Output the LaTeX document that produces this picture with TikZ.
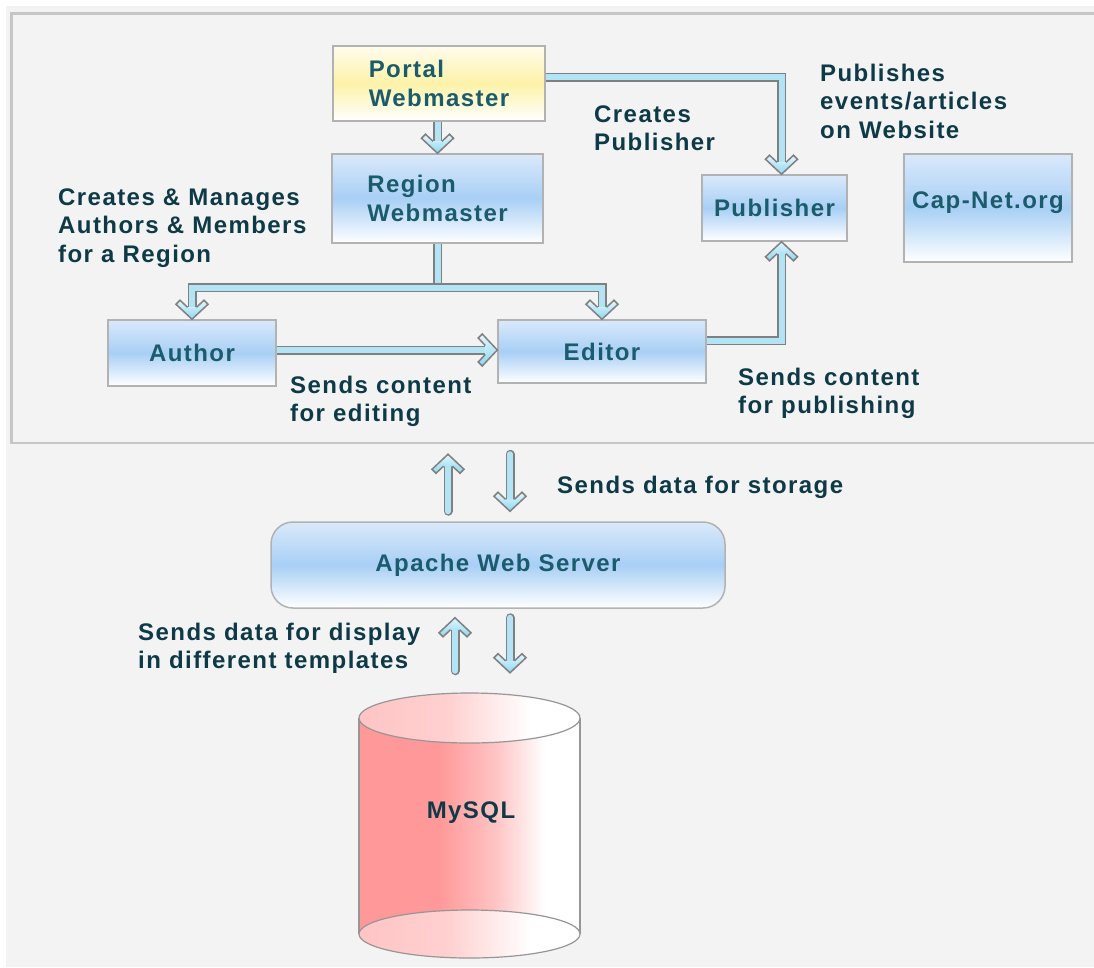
\documentclass[tikz,border=0pt]{standalone}
\usepackage{fontspec}
\setmainfont{Liberation Sans}[LetterSpace=6]
\usetikzlibrary{calc}
\definecolor{bgray}{RGB}{243,243,243}
\definecolor{panelc}{RGB}{198,198,198}
\definecolor{bordc}{RGB}{178,178,178}
\definecolor{bluetop}{RGB}{218,233,251}
\definecolor{bluemid}{RGB}{168,207,245}
\definecolor{yeltop}{RGB}{255,252,236}
\definecolor{yelmid}{RGB}{253,242,168}
\definecolor{txtd}{RGB}{14,58,72}
\definecolor{txtb}{RGB}{26,92,108}
\definecolor{arrgray}{RGB}{128,128,128}
\definecolor{arrfill}{RGB}{178,228,246}
\definecolor{headtop}{RGB}{228,246,252}
\definecolor{headbot}{RGB}{140,215,243}
\definecolor{dbred}{RGB}{255,152,152}
\definecolor{dbred2}{RGB}{255,196,196}
\definecolor{dbline}{RGB}{150,150,150}
\pgfdeclarehorizontalshading{dbbody}{100bp}{color(0bp)=(dbred); color(25bp)=(dbred); color(43bp)=(dbred); color(56bp)=(dbred2); color(67bp)=(white); color(100bp)=(white)}
\pgfdeclarehorizontalshading{dbtop}{100bp}{color(0bp)=(dbred2); color(25bp)=(dbred2); color(45bp)=(dbred2!80!white); color(64bp)=(white); color(100bp)=(white)}
\newcommand\hdown[1]{\begin{scope}[shift={#1}]
 \shade[top color=headtop, bottom color=headbot] (-4.5,-12)--(-12,-19)--(-16,-15)--(0,0)--(16,-15)--(12,-19)--(4.5,-12)--cycle;
 \draw[arrline] (-4.5,-12)--(-12,-19)--(-16,-15)--(0,0)--(16,-15)--(12,-19)--(4.5,-12);
 \end{scope}}
\newcommand\hup[1]{\begin{scope}[shift={#1}]
 \shade[top color=headtop, bottom color=headbot] (-4.5,12)--(-12,19)--(-16,15)--(0,0)--(16,15)--(12,19)--(4.5,12)--cycle;
 \draw[arrline] (-4.5,12)--(-12,19)--(-16,15)--(0,0)--(16,15)--(12,19)--(4.5,12);
 \end{scope}}
\newcommand\hright[1]{\begin{scope}[shift={#1}]
 \shade[top color=headtop, bottom color=headbot] (-12,-4.5)--(-19,-12)--(-15,-16)--(0,0)--(-15,16)--(-19,12)--(-12,4.5)--cycle;
 \draw[arrline] (-12,-4.5)--(-19,-12)--(-15,-16)--(0,0)--(-15,16)--(-19,12)--(-12,4.5);
 \end{scope}}
\begin{document}
\begin{tikzpicture}[x=1pt,y=-1pt,
  every node/.style={font=\fontsize{24}{28.5}\selectfont\bfseries},
  box/.style={draw=bordc, line width=1.5, top color=bluetop, bottom color=white, middle color=bluemid, text=txtb, inner sep=0},
  ybox/.style={box, top color=yeltop, bottom color=white, middle color=yelmid},
  note/.style={anchor=base west, align=left, text=txtd, inner sep=0},
  shaft/.style={draw=arrgray, line width=1.5, double=arrfill, double distance=6, line join=miter},
  arrline/.style={draw=arrgray, line width=1.5, line join=miter}]
\useasboundingbox (0,0) rectangle (1094,967);
\fill[white] (0,0) rectangle (1094,967);
\fill[bgray] (6,6) rectangle (1094,967);
\draw[panelc, line width=2.5] (1100,13.5) -- (11.5,13.5) -- (11.5,443) -- (1100,443);

% boxes
\node[ybox, minimum width=212, minimum height=75, align=left] (pw) at (439,83.5) {Portal\\Webmaster};
\node[box, minimum width=211, minimum height=89, align=left] (rw) at (437.5,198.5) {Region\\Webmaster};
\node[box, minimum width=145, minimum height=66] (pub) at (774.5,208) {Publisher};
\node[box, minimum width=168, minimum height=108, text height=17, text depth=17] (cap) at (988,208) {Cap-Net.org};
\node[box, minimum width=168, minimum height=66] (au) at (192,353) {Author};
\node[box, minimum width=208, minimum height=63] (ed) at (602,351.5) {Editor};
\node[box, minimum width=454, minimum height=86, rounded corners=22] (ap) at (498,565) {Apache Web Server};

% notes (anchored at the baseline of their last line)
\node[note] (n1) at (58,262) {Creates \& Manages\\Authors \& Members\\for a Region};
\node[note] (n2) at (594,150.5) {Creates\\Publisher};
\node[note] (n3) at (820,138) {Publishes\\events/articles\\on Website};
\node[note] (n4) at (290,421.5) {Sends content\\for editing};
\node[note] (n5) at (738,413.5) {Sends content\\for publishing};
\node[note] (n6) at (557,493) {Sends data for storage};
\node[note] (n7) at (138,668.5) {Sends data for display\\in different templates};

% connectors
\draw[shaft] (pw.south -| rw.north) -- ($(rw.north)+(0,-12)$);
\hdown{(rw.north)}
\draw[shaft] ($(pw.east)+(0,-6.5)$) -| ($(pub.north)+(7,-12)$);
\hdown{($(pub.north)+(7,0)$)}
\coordinate (j) at ($(rw.south)+(0,44)$);
\draw[shaft] ($(au.north)+(0,-12)$) |- (j) -| ($(ed.north)+(0,-12)$);
\draw[shaft] (rw.south) -- ($(j)+(0,-4.5)$);
\hdown{(au.north)}
\hdown{(ed.north)}
\coordinate (ae) at ($(au.east)+(0,-3)$);
\draw[shaft] (ae) -- ($(ed.west |- ae)+(-12,0)$);
\hright{(ed.west |- ae)}
\draw[shaft] ($(ed.east)+(0,-11)$) -| ($(pub.south)+(7,12)$);
\hup{($(pub.south)+(7,0)$)}

% arrows around the web server
\coordinate (u1t) at ($(ap.north)+(-50,-10)$);
\coordinate (u1h) at ($(ap.north)+(-50,-67)$);
\coordinate (d1t) at ($(ap.north)+(12,-67)$);
\coordinate (d1h) at ($(ap.north)+(12,-10)$);
\coordinate (u2t) at ($(ap.south)+(-43,62)$);
\coordinate (u2h) at ($(ap.south)+(-43,9)$);
\coordinate (d2t) at ($(ap.south)+(12,9)$);
\coordinate (d2h) at ($(ap.south)+(12,64)$);
\draw[shaft, line cap=round] (u1t) -- ($(u1h)+(0,12)$); \hup{(u1h)}
\draw[shaft, line cap=round] (d1t) -- ($(d1h)+(0,-12)$); \hdown{(d1h)}
\draw[shaft, line cap=round] (u2t) -- ($(u2h)+(0,12)$); \hup{(u2h)}
\draw[shaft, line cap=round] (d2t) -- ($(d2h)+(0,-12)$); \hdown{(d2h)}

% database
\shade[shading=dbbody] (359,718) -- (359,934) arc[start angle=180, end angle=360, x radius=110.5pt, y radius=24pt] -- (580,718) -- cycle;
\draw[dbline, line width=1.2] (359,718) -- (359,934) (580,718) -- (580,934);
\path[shading=dbtop, shade, draw=dbline, line width=1.2] (469.5,934) ellipse[x radius=110.5pt, y radius=24pt];
\path[shading=dbtop, shade, draw=dbline, line width=1.2] (469.5,718) ellipse[x radius=110.5pt, y radius=25pt];
\node[anchor=base, text=txtd, inner sep=0] (db) at (471,818) {MySQL};
\end{tikzpicture}
\end{document}
